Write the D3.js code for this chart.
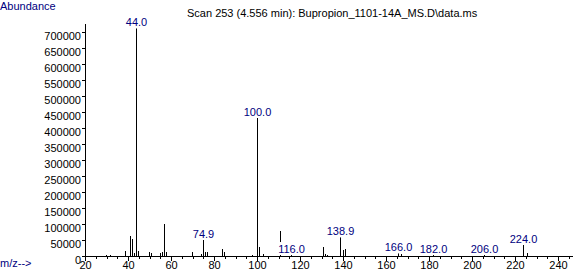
<!DOCTYPE html>
<html>
<head>
<meta charset="utf-8">
<script src="https://cdn.jsdelivr.net/npm/d3@7"></script>
<style>
  body { margin: 0; background: #fff; }
  svg { display: block; }
  text { font-family: "Liberation Sans", Arial, sans-serif; }
</style>
</head>
<body>
<div id="spectrum"></div>
<script>
// peaks (m/z and abundance)
var mz = [30, 32, 39, 41, 42, 43, 44, 45, 50, 51, 55, 56, 57, 58,
          70, 74, 74.9, 76, 77, 84, 85, 98, 100, 101, 103, 111, 116,
          131, 132, 133, 138.9, 140, 141, 166, 167, 182, 206, 224, 226];
var abundance = [4000, 4000, 15600, 62000, 53000, 9000, 710000, 15600, 12500, 9000, 9000, 11000, 100000, 12500,
                 13000, 6000, 50000, 12500, 12500, 22800, 12500, 3000, 432000, 29000, 7000, 79000, 3000,
                 28000, 5000, 4000, 58000, 20000, 21800, 8000, 6000, 3000, 4500, 34300, 10000];
// peaks that carry a label
var labelMz = [44, 74.9, 100, 116, 138.9, 166, 182, 206, 224];

var yTicks = d3.range(0, 700001, 50000);
var xTicks = d3.range(20, 246, 5);
var xLabels = d3.range(20, 241, 20);

var title = "Scan 253 (4.556 min): Bupropion_1101-14A_MS.D\\data.ms";

var margin = {top: 23, right: 13, bottom: 17, left: 85},
    width = 585 - margin.left - margin.right,
    height = 273 - margin.top - margin.bottom;

var root = d3.select("#spectrum")
  .append("svg")
    .attr("width", 585)
    .attr("height", 273);

var svg = root.append("g")
    .attr("transform", "translate(" + margin.left + "," + margin.top + ")");

var x = d3.scaleLinear().domain([20, 246.5]).range([0, width]);
var y = d3.scaleLinear().domain([0, 727000]).range([height, 0]);

// y axis
var yAxis = svg.append("g")
    .call(d3.axisLeft(y).tickValues(yTicks).tickSize(3).tickSizeOuter(0).tickPadding(1).tickFormat(d3.format("d")));
yAxis.selectAll("text").attr("dy", "0.71em").style("font-size", "11px").style("font-family", "Liberation Sans, Arial, sans-serif").attr("fill", "#000");

// x axis
var xAxis = svg.append("g")
    .attr("transform", "translate(0," + height + ")")
    .call(d3.axisBottom(x).tickValues(xTicks).tickSize(3).tickSizeOuter(0).tickPadding(2)
      .tickFormat(function(d) { return xLabels.includes(d) ? d : ""; }));
xAxis.selectAll("text").style("font-size", "11px").style("font-family", "Liberation Sans, Arial, sans-serif").attr("fill", "#000");
xAxis.selectAll(".tick line").attr("y2", function(d) { return xLabels.includes(d) ? 5 : 3; });

root.selectAll("path, line").attr("shape-rendering", "crispEdges").attr("stroke", "#000");

// peaks
var peaks = mz.map(function(m, i) { return {mz: m, value: abundance[i]}; });
svg.selectAll("line.peak")
    .data(peaks)
    .enter()
    .append("line")
      .attr("class", "peak")
      .attr("x1", function(d) { return Math.floor(x(d.mz)) + 0.5; })
      .attr("x2", function(d) { return Math.floor(x(d.mz)) + 0.5; })
      .attr("y1", height)
      .attr("y2", function(d) { return y(d.value); })
      .attr("stroke", "#000")
      .attr("shape-rendering", "crispEdges");

// peak labels with white boxes (they hide what is behind them)
var labelled = peaks.filter(function(d) { return labelMz.includes(d.mz); });
var lab = svg.selectAll("g.lab")
    .data(labelled)
    .enter()
    .append("g")
      .attr("class", "lab");
var labText = lab.append("text")
    .attr("x", function(d) { return Math.floor(x(d.mz)) + 0.5; })
    .attr("y", function(d) { return y(d.value) - 2; })
    .attr("text-anchor", "middle")
    .style("font-size", "11px")
    .attr("fill", "#000080")
    .text(function(d) { return d3.format(".1f")(d.mz); });
lab.each(function() {
  var t = d3.select(this).select("text");
  var b = t.node().getBBox();
  d3.select(this).insert("rect", "text")
    .attr("x", b.x - 1).attr("y", b.y - 1)
    .attr("width", b.width + 2).attr("height", b.height + 1)
    .attr("fill", "#fff");
});

// texts
root.append("text").attr("x", 0).attr("y", 10).style("font-size", "11px").attr("fill", "#000080").text("Abundance");
root.append("text").attr("x", 0).attr("y", 267).style("font-size", "11px").attr("fill", "#000080").text("m/z-->");
root.append("text").attr("x", 187).attr("y", 17).style("font-size", "11px").attr("fill", "#000").text(title);
</script>
</body>
</html>
